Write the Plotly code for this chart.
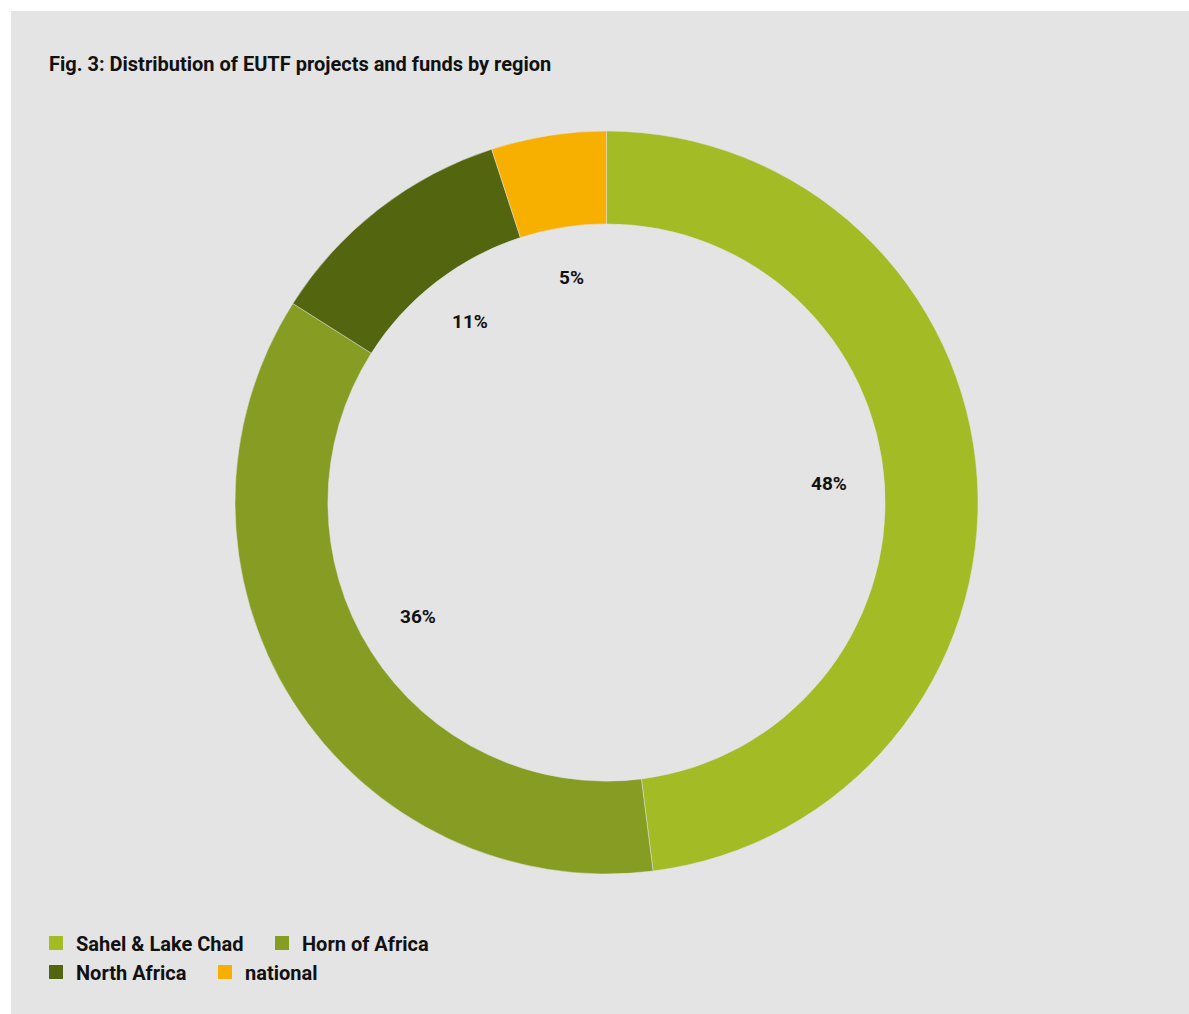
import math
import plotly.graph_objects as go

W, H = 1189, 1014

regions = ["Sahel & Lake Chad", "Horn of Africa", "North Africa", "national"]
shares = [48, 36, 11, 5]
colors = ["#a3bb24", "#869c22", "#546510", "#f7b000"]
legend_rows = ["legend", "legend", "legend2", "legend2"]
title_text = "Fig. 3: Distribution of EUTF projects and funds by region"

BG = "#e4e4e4"
COND = "Roboto, Liberation Sans, sans-serif"

# pie geometry (px)
cx, cy, R = 606.5, 502.5, 371.5
dom_x = [(cx - R) / W, (cx + R) / W]
dom_y = [(H - cy - R) / H, (H - cy + R) / H]

fig = go.Figure()
fig.add_trace(go.Pie(
    labels=regions, values=shares, hole=0.75, sort=False, direction="clockwise",
    rotation=0, marker=dict(colors=colors, line=dict(color="rgba(228,228,228,0.5)", width=1)),
    textinfo="none", hoverinfo="label+percent", showlegend=False,
    domain=dict(x=dom_x, y=dom_y),
))

for name, col, lg in zip(regions, colors, legend_rows):
    fig.add_trace(go.Scatter(
        x=[None], y=[None], mode="markers", name=name, legend=lg,
        marker=dict(symbol="square", size=14, color=col),
    ))

# percentage labels inside the hole, at mid-angle of each slice
total = sum(shares)
cum = 0
annotations = []
for v in shares:
    mid = (cum + v / 2) / total * 2 * math.pi
    cum += v
    r = 0.6 * R
    px = cx + r * math.sin(mid)
    py = cy - r * math.cos(mid)
    annotations.append(dict(
        x=px / W, y=1 - py / H, xref="paper", yref="paper", showarrow=False, yshift=5,
        text=f"{v}%", font=dict(family="Roboto, sans-serif", size=19, color="#111", weight="bold"),
        xanchor="center", yanchor="middle",
    ))

legend_font = dict(family=COND, size=20, color="#111", weight="bold")

fig.update_layout(
    width=W, height=H,
    margin=dict(l=0, r=0, t=0, b=0),
    paper_bgcolor="white", plot_bgcolor="rgba(0,0,0,0)",
    xaxis=dict(visible=False), yaxis=dict(visible=False),
    shapes=[dict(type="rect", xref="paper", yref="paper", x0=11 / W, x1=1, y0=0, y1=1 - 11 / H,
                 fillcolor=BG, line=dict(width=0), layer="below")],
    title=dict(text=title_text, x=49 / W, xanchor="left", y=1 - 64 / H, yanchor="middle",
               font=dict(family=COND, size=20, color="#111", weight="bold")),
    legend=dict(orientation="h", x=36 / W, xanchor="left", y=1 - 943 / H, yanchor="middle",
                bgcolor="rgba(0,0,0,0)", font=legend_font, entrywidth=181),
    legend2=dict(orientation="h", x=36 / W, xanchor="left", y=1 - 972 / H, yanchor="middle",
                 bgcolor="rgba(0,0,0,0)", font=legend_font, entrywidth=124),
    annotations=annotations,
)

fig.write_html("out.html")
